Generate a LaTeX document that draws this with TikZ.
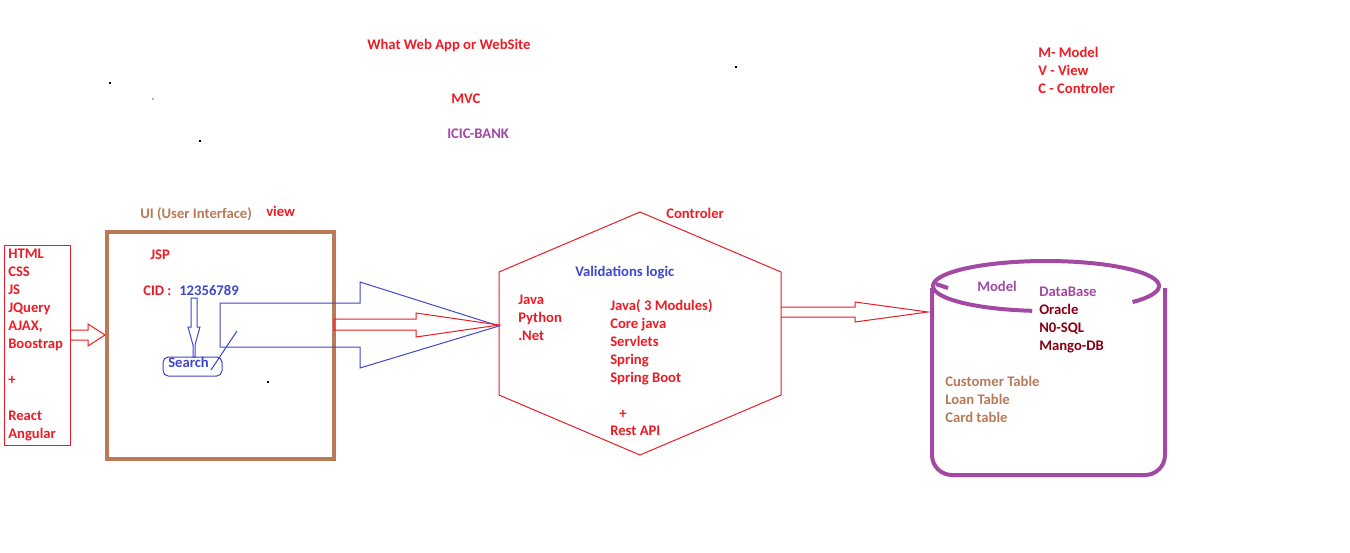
\documentclass[tikz,border=0pt]{standalone}
\usepackage{fontspec}
\setmainfont{Carlito}
\definecolor{pred}{RGB}{237,28,36}
\definecolor{pblue}{RGB}{63,72,204}
\definecolor{ppurple}{RGB}{163,73,164}
\definecolor{pbrown}{RGB}{185,122,87}
\definecolor{pdark}{RGB}{136,0,21}
\begin{document}
\begin{tikzpicture}[x=0.75pt,y=-0.75pt,
  txt/.style={inner sep=0pt, anchor=base west, font=\fontsize{11}{13}\selectfont\bfseries},
  thin/.style={line width=0.75pt},
  thick4/.style={line width=3pt},
  dot/.style={fill=black, inner sep=0pt, minimum size=1.2pt, draw=none}]
\useasboundingbox[fill=white] (0,0) rectangle (1350,553);

% top texts
\node[txt, text=pred] (title) at (367,49) {What Web App or WebSite};
\node[txt, text=pred] (mvc) at (451,103) {MVC};
\node[txt, text=ppurple] (bank) at (447,138) {ICIC-BANK};
\node[txt, text=pred] (m) at (1038,57) {M- Model};
\node[txt, text=pred] (v) at (1038,75) {V - View};
\node[txt, text=pred] (c) at (1038,93) {C - Controler};

% stray dots
\node[dot] (d1) at (110,83) {};
\node[dot, fill=gray!60] (d2) at (153,99) {};
\node[dot] (d3) at (200,141) {};
\node[dot] (d4) at (736,67) {};
\node[dot] (d5) at (268,382) {};

% tech box
\draw[pred, thin] (4,245) rectangle (70,445);
\foreach \t [count=\i] in {HTML,CSS,JS,JQuery,{AJAX,},Boostrap}
  \node[txt, text=pred] (tech\i) at (8,{240+18*\i}) {\t};
\node[txt, text=pred] (plus1) at (8,384) {+};
\node[txt, text=pred] (react) at (8,420) {React};
\node[txt, text=pred] (angular) at (8,438) {Angular};

% arrow tech -> UI
\draw[pred, thin] (70,330) -- (88,330) -- (88,324) -- (105,335) -- (88,346) -- (88,340) -- (70,340);

% UI box
\draw[pbrown, thick4] (107,232) rectangle (334,459);
\node[txt, text=pbrown] (ui) at (140,218) {UI (User Interface)};
\node[txt, text=pred] (view) at (266,216) {view};
\node[txt, text=pred] (jsp) at (150,259) {JSP};
\node[txt, text=pred] (cid) at (143,295) {CID :};
\node[txt, text=pblue] (num) at (179,295) {12356789};
\draw[pblue, thin] (191,298) -- (197,298) -- (197,327) -- (200,327) -- (195,345) -- (195,357) -- (193,357) -- (193,345) -- (188,327) -- (191,327) -- cycle;
\draw[pblue, thin, rounded corners=4pt] (163,357) rectangle (222,376);
\node[txt, text=pblue] (search) at (168,367) {Search};
\draw[pblue, thin] (211,370) -- (237,331);

% big arrows UI -> controller
\draw[pblue, thin] (220,303) -- (360,303) -- (360,282) -- (499,326) -- (360,368) -- (360,347) -- (220,347) -- cycle;
\draw[pred, thin] (334,319) -- (416,319) -- (416,313) -- (499,325) -- (416,337) -- (416,330) -- (334,330) -- cycle;

% hexagon controller
\draw[pred, thin] (640,212) -- (781,272) -- (781,395) -- (640,455) -- (499,395) -- (499,272) -- cycle;
\node[txt, text=pred] (ctrl) at (666,218) {Controler};
\node[txt, text=pblue] (valid) at (575,276) {Validations logic};
\node[txt, text=pred] (java) at (518,304) {Java};
\node[txt, text=pred] (python) at (518,322) {Python};
\node[txt, text=pred] (net) at (518,340) {.Net};
\node[txt, text=pred] (jm) at (610,310) {Java( 3 Modules)};
\node[txt, text=pred] (core) at (610,328) {Core java};
\node[txt, text=pred] (serv) at (610,346) {Servlets};
\node[txt, text=pred] (spring) at (610,364) {Spring};
\node[txt, text=pred] (boot) at (610,382) {Spring Boot};
\node[txt, text=pred] (plus2) at (619,418) {+};
\node[txt, text=pred] (rest) at (610,435) {Rest API};

% arrow controller -> model
\draw[pred, thin] (781,307) -- (855,307) -- (855,302) -- (928,312) -- (855,322) -- (855,317) -- (781,317);

% cylinder
\draw[ppurple, thick4, rounded corners=15pt] (932,288) -- (932,475) -- (1165,475) -- (1165,288);
\draw[ppurple, thick4] (1046,286) ++(97:113 and 25) arc[start angle=97, end angle=400, x radius=113, y radius=25];
\draw[ppurple, thick4] (936,284) -- (948,288);
\node[txt, text=ppurple] (model) at (977,291) {Model};
\node[txt, text=ppurple] (db) at (1039,296) {DataBase};
\node[txt, text=pdark] (oracle) at (1039,314) {Oracle};
\node[txt, text=pdark] (nosql) at (1039,332) {N0-SQL};
\node[txt, text=pdark] (mango) at (1039,350) {Mango-DB};
\node[txt, text=pbrown] (cust) at (945,386) {Customer Table};
\node[txt, text=pbrown] (loan) at (945,404) {Loan Table};
\node[txt, text=pbrown] (card) at (945,422) {Card table};
\end{tikzpicture}
\end{document}
